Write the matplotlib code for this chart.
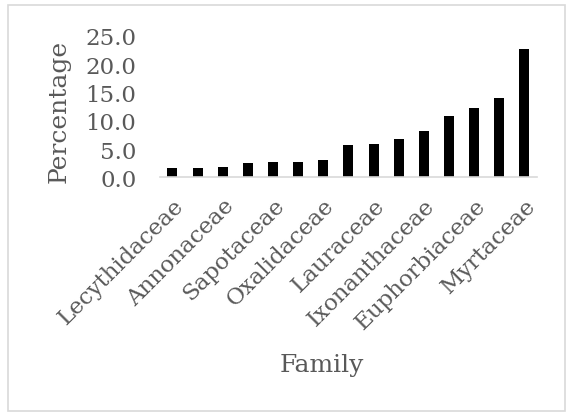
import numpy as np
import matplotlib.pyplot as plt
from matplotlib.patches import Rectangle

# data (only every other family is labelled)
families = ['Lecythidaceae', '', 'Annonaceae', '', 'Sapotaceae', '',
            'Oxalidaceae', '', 'Lauraceae', '', 'Ixonanthaceae', '',
            'Euphorbiaceae', '', 'Myrtaceae']
percentage = [1.6, 1.6, 1.9, 2.5, 2.8, 2.8, 3.1, 5.7, 5.9, 6.8,
              8.2, 10.8, 12.3, 14.1, 22.6]
y_ticks = [0, 5, 10, 15, 20, 25]

txt_col = '#595959'
plt.rcParams['font.family'] = ['DejaVu Serif']

fig = plt.figure(figsize=(5.67, 4.14), dpi=100)
ax = fig.add_axes([0.282, 0.569, 0.665, 0.342])

x = np.arange(len(percentage))
ax.bar(x, percentage, width=0.4, color='black')

ax.set_xlim(-0.5, len(percentage) - 0.5)
ax.set_ylim(0, 25)
ax.set_yticks(y_ticks)
ax.set_yticklabels(['{:.1f}'.format(v) for v in y_ticks])
ax.set_xticks(x)
ax.set_xticklabels(families, rotation=45, ha='right', rotation_mode='anchor')

for s in ['top', 'right', 'left']:
    ax.spines[s].set_visible(False)
ax.spines['bottom'].set_color('#d9d9d9')
ax.spines['bottom'].set_linewidth(1.2)
ax.tick_params(axis='both', length=0, colors=txt_col)
ax.tick_params(axis='x', pad=12, labelsize=16.5)
ax.tick_params(axis='y', pad=17, labelsize=16.5)

ax.set_ylabel('Percentage', fontsize=18, color=txt_col)
ax.yaxis.set_label_coords(-0.236, 0.47)
fig.text(0.567, 0.117, 'Family', fontsize=18, color=txt_col,
         ha='center', va='center')

# light frame round the whole chart
fig.patches.append(Rectangle((8 / 567, 2 / 414), 557 / 567, 406 / 414,
                             transform=fig.transFigure, fill=False,
                             edgecolor='#d9d9d9', linewidth=1.2))

fig.savefig('out.png', dpi=100)
